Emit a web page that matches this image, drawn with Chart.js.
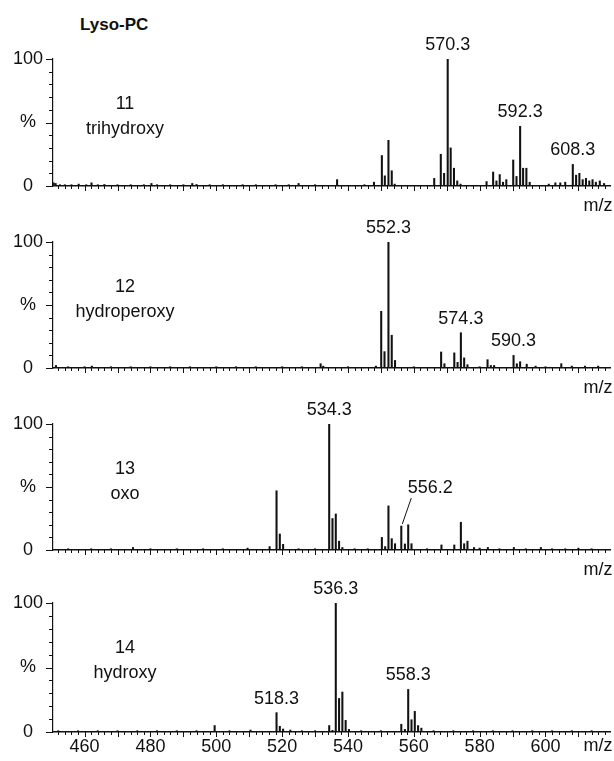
<!DOCTYPE html>
<html>
<head>
<meta charset="utf-8">
<script src="https://cdn.jsdelivr.net/npm/chart.js@4.4.0/dist/chart.umd.min.js"></script>
<style>
  html, body { margin: 0; padding: 0; background: #fff; }
  #wrap { position: relative; width: 614px; height: 761px; overflow: hidden; }
  #wrap canvas { position: absolute; left: 0; }
  #title { position: absolute; left: 80px; top: 15px; font: bold 17px "Liberation Sans", Arial, sans-serif; color: #111; }
</style>
</head>
<body>
<div id="wrap">
  <div id="title">Lyso-PC</div>
  <canvas id="c11"></canvas>
  <canvas id="c12"></canvas>
  <canvas id="c13"></canvas>
  <canvas id="c14"></canvas>
</div>
<script>
// ---- data (m/z, relative intensity %) ----
const mz11  = [450.0, 450.6, 451.2, 452.5, 454.0, 456.0, 458.2, 460.5, 462.1, 464.0, 466.0, 470.0, 474.0, 478.0, 480.3, 482.0, 486.0, 490.0, 492.7, 494.0, 498.0, 502.0, 508.0, 512.0, 518.0, 522.0, 525.0, 530.0, 536.7, 545.0, 547.9,
               550.3, 551.2, 552.3, 553.3, 554.2, 566.2, 568.2, 569.2, 570.3, 571.2, 572.2, 573.2, 574.2,
               582.1, 584.1, 585.1, 586.1, 587.1, 588.1, 590.2, 591.2, 592.3, 593.2, 594.2, 595.2,
               601.0, 603.0, 604.5, 606.0, 608.3, 609.3, 610.3, 611.3, 612.3, 613.3, 614.3, 615.3, 616.5, 617.8];
const int11 = [2, 2.5, 2, 1, 1, 1, 1.5, 1, 2.5, 1, 1.2, 1, 1, 1, 2, 1, 1, 1, 2, 1.2, 1, 1, 1, 1, 1, 1, 2, 1, 5, 1, 3,
               24, 8, 36, 12, 1.5, 6, 25, 10, 100, 30, 14, 4, 1.5,
               3.5, 11, 4, 9, 3, 5, 20.5, 7.5, 47, 14, 14, 3,
               1.5, 2.5, 2.5, 3, 17, 8.5, 10, 5, 6, 4, 5, 3, 4, 2];

const mz12  = [451.3, 455.0, 460.0, 462.2, 468.0, 474.0, 480.0, 486.0, 492.0, 500.0, 506.0, 512.0, 520.0, 526.0, 531.7, 532.5, 540.0, 548.5,
               550.1, 551.1, 552.3, 553.3, 554.3, 560.0, 568.3, 569.3, 572.3, 573.3, 574.3, 575.3, 576.3, 580.0,
               582.4, 583.4, 584.4, 590.3, 591.3, 592.3, 594.3, 597.0, 600.0, 604.8, 608.0, 612.0, 616.0];
const int12 = [2, 1, 1, 1.5, 1, 1, 1, 1, 1, 1, 1, 1, 1, 1, 3.4, 1.5, 1, 1.5,
               45, 13, 100, 26, 6, 1, 12.7, 3.4, 12, 4.5, 28, 8, 2.6, 1,
               6.6, 2, 2, 10, 3.4, 5, 3, 1.5, 1, 3.4, 1.5, 1.5, 1.5];

const mz13  = [455.0, 462.0, 468.0, 474.7, 480.0, 488.0, 496.0, 502.0, 509.5, 516.2, 518.3, 519.3, 520.3, 525.0, 530.0,
               534.3, 535.3, 536.3, 537.3, 538.3, 542.0, 546.0, 550.3, 551.3, 552.3, 553.3, 554.3, 556.2, 557.3, 558.3, 559.3,
               564.0, 568.4, 572.3, 574.3, 575.3, 576.3, 578.3, 580.0, 582.5, 586.0, 590.4, 594.0, 598.6, 602.0, 606.0, 610.0, 614.0];
const int13 = [1, 1, 1, 2, 1, 1, 1, 1, 1.5, 2.7, 47, 12.7, 4.5, 1, 1,
               100, 25, 28.6, 7, 2, 1, 1, 10, 2.7, 35, 9, 5, 19, 4.8, 20, 5,
               1, 4, 4, 22, 5, 7, 2, 1.5, 2, 1, 2, 1, 2, 1, 1, 1.5, 1];

const mz14  = [452.0, 458.0, 464.0, 470.0, 476.0, 482.0, 488.0, 494.0, 499.5, 504.0, 510.4, 518.3, 519.3, 520.3, 522.5, 526.0, 530.0,
               534.3, 535.3, 536.3, 537.3, 538.3, 539.3, 540.3, 544.0, 550.0, 556.2, 557.3, 558.3, 559.3, 560.3, 561.3, 562.3,
               566.0, 572.0, 578.0, 584.0, 590.0, 596.0, 602.0, 608.0, 614.0];
const int14 = [1, 1, 1, 1, 1, 1, 1, 1, 5, 1, 1.5, 15, 4.4, 2.3, 1.5, 1, 1,
               5, 1.3, 100, 26, 31, 9, 2, 1, 1, 6, 2, 33, 9.5, 16, 5, 3,
               1, 1, 1, 1, 1, 1, 1, 1, 1];

const peaks11 = ['570.3', '592.3', '608.3'];
const peaks12 = ['552.3', '574.3', '590.3'];
const peaks13 = ['534.3'];
const peaks14 = ['518.3', '536.3', '558.3'];

const xTickLabels = [460, 480, 500, 520, 540, 560, 580, 600];
const yTickLabels = { 0: '0', 50: '%', 100: '100' };

const FONT = '"Liberation Sans", Arial, sans-serif';
const FSIZE = 18;
const INK = '#111';

/**
 * draw axis ticks, names, peak labels
 */
const decoPlugin = {
  id: 'deco',
  afterDraw(chart) {
    const cfg = chart.options.plugins.deco;
    const ctx = chart.ctx;
    const xs = chart.scales.x, ys = chart.scales.y;
    const area = chart.chartArea;
    ctx.save();
    ctx.strokeStyle = INK;
    ctx.lineWidth = 1;
    ctx.beginPath();
    for (let v = 452; v <= 618; v += 2) {
      const px = Math.round(xs.getPixelForValue(v)) + 0.5;
      const len = v % 10 === 0 ? 5 : 3;
      ctx.moveTo(px, area.bottom);
      ctx.lineTo(px, area.bottom + len);
    }
    for (let v = 0; v <= 100; v += 10) {
      const py = Math.round(ys.getPixelForValue(v)) + 0.5;
      const len = v % 50 === 0 ? 7 : 4;
      ctx.moveTo(area.left - len, py);
      ctx.lineTo(area.left, py);
    }
    ctx.stroke();

    ctx.fillStyle = INK;
    ctx.font = FSIZE + 'px ' + FONT;
    ctx.textAlign = 'center';
    ctx.textBaseline = 'middle';
    const top = ys.getPixelForValue(100);
    ctx.fillText(cfg.num, 125, top + 45);
    ctx.fillText(cfg.name, 125, top + 70);

    // m/z
    ctx.fillText('m/z', 598, area.bottom + (cfg.bottom ? 14 : 20));

    // peak labels
    const ds = chart.data.datasets[0].data;
    ctx.textBaseline = 'bottom';
    cfg.peaks.forEach(t => {
      const m = parseFloat(t);
      let best = ds[0];
      ds.forEach(p => { if (Math.abs(p.x - m) < Math.abs(best.x - m)) best = p; });
      ctx.fillText(t, xs.getPixelForValue(best.x), ys.getPixelForValue(best.y) - 5);
    });

    // label with pointer line
    if (cfg.leader) {
      const m = parseFloat(cfg.leader.text);
      let best = ds[0];
      ds.forEach(p => { if (Math.abs(p.x - m) < Math.abs(best.x - m)) best = p; });
      const px = xs.getPixelForValue(best.x), py = ys.getPixelForValue(best.y);
      ctx.fillText(cfg.leader.text, px + 29, py - 29);
      ctx.beginPath();
      ctx.moveTo(px + 10, py - 28);
      ctx.lineTo(px + 1, py - 2);
      ctx.stroke();
    }
    ctx.restore();
  }
};

function makePanel(id, mz, ints, deco, top, plotH, bottom) {
  const padTop = 40, axisH = 30;
  const cv = document.getElementById(id);
  cv.width = 614;
  cv.height = padTop + plotH + axisH;
  cv.style.top = (top - padTop) + 'px';

  return new Chart(cv.getContext('2d'), {
    type: 'bar',
    data: {
      datasets: [{
        data: mz.map((m, i) => ({ x: m, y: ints[i] })),
        backgroundColor: INK,
        barThickness: 1.4
      }]
    },
    options: {
      responsive: false,
      animation: false,
      layout: { padding: { top: padTop, left: 0, right: 4, bottom: 0 } },
      plugins: {
        legend: { display: false },
        tooltip: { enabled: false },
        deco: Object.assign({ bottom: bottom }, deco)
      },
      scales: {
        x: {
          type: 'linear',
          min: 450.4,
          max: 619.6,
          offset: false,
          afterFit(s) { s.height = axisH; },
          afterBuildTicks(s) { s.ticks = xTickLabels.map(v => ({ value: v })); },
          grid: { display: false, drawTicks: false },
          border: { color: INK, width: 1.6 },
          ticks: {
            display: bottom,
            autoSkip: false,
            maxRotation: 0,
            padding: 4,
            color: INK,
            font: { size: FSIZE, family: FONT }
          }
        },
        y: {
          min: 0,
          max: 100,
          afterFit(s) { s.width = 53; },
          afterBuildTicks(s) { s.ticks = [0, 50, 100].map(v => ({ value: v })); },
          grid: { display: false, drawTicks: false },
          border: { color: INK, width: 1.2 },
          ticks: {
            padding: 10,
            crossAlign: 'center',
            color: INK,
            font: { size: FSIZE, family: FONT },
            callback: v => yTickLabels[v]
          }
        }
      }
    },
    plugins: [decoPlugin]
  });
}

makePanel('c11', mz11, int11, { num: '11', name: 'trihydroxy', peaks: peaks11 }, 59, 127, false);
makePanel('c12', mz12, int12, { num: '12', name: 'hydroperoxy', peaks: peaks12 }, 242, 126, false);
makePanel('c13', mz13, int13, { num: '13', name: 'oxo', peaks: peaks13, leader: { text: '556.2' } }, 424, 126, false);
makePanel('c14', mz14, int14, { num: '14', name: 'hydroxy', peaks: peaks14 }, 603, 129, true);
</script>
</body>
</html>
